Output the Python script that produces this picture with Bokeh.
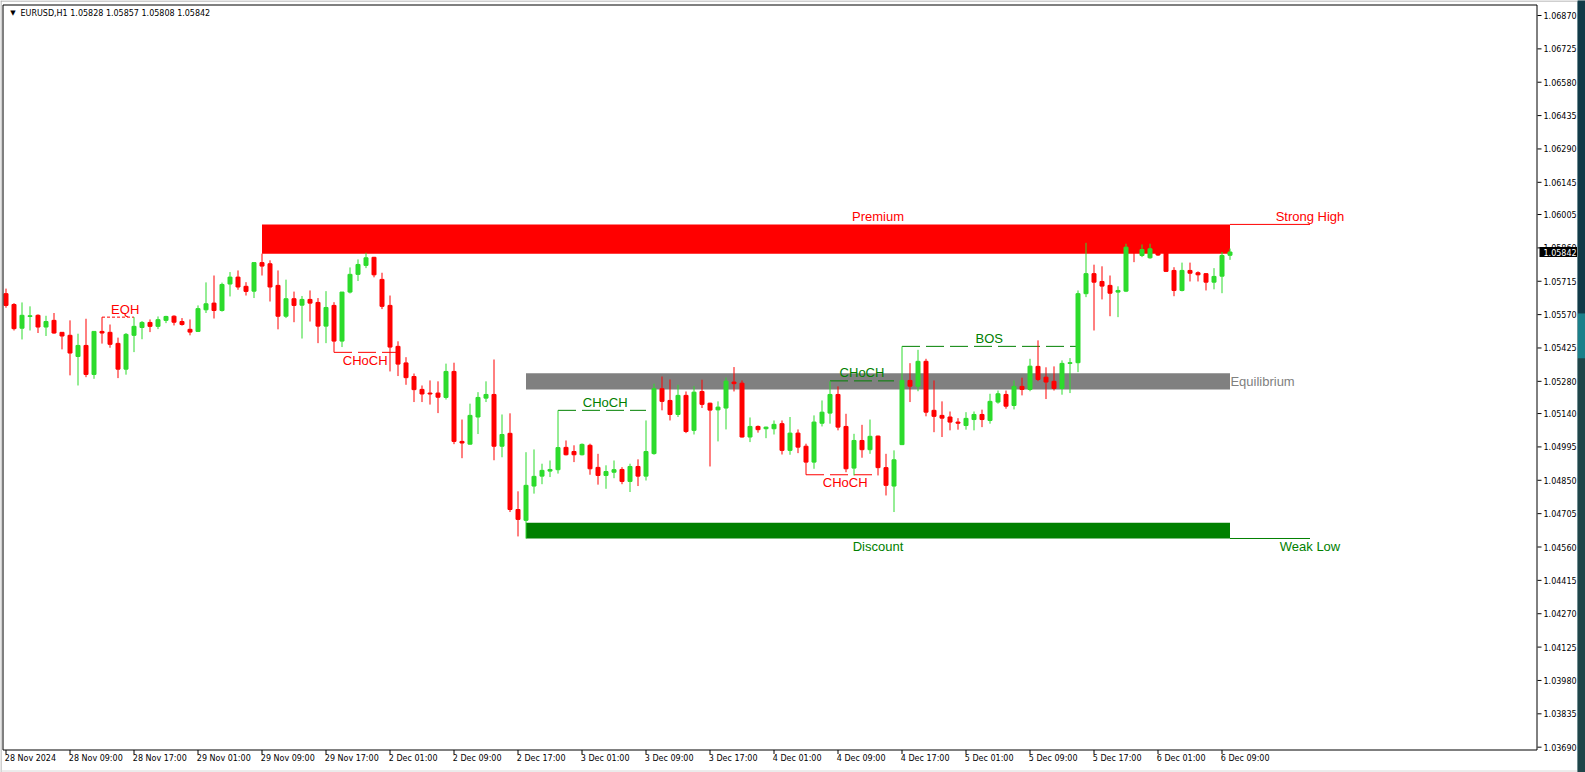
from bokeh.plotting import figure
from bokeh.models import Range1d, Label, ColumnDataSource
from bokeh.layouts import row
from bokeh.embed import file_html
from bokeh.resources import INLINE
from bokeh.core.properties import value

# ---------------- data ----------------
symbol_text = "EURUSD,H1  1.05828 1.05857 1.05808 1.05842"
last_price = 1.05842

opens = [1.05661,1.05614,1.05511,1.05562,1.05567,1.05516,1.05545,1.05493,1.05480,1.05388,
         1.05436,1.05310,1.05497,1.05493,1.05445,1.05333,1.05480,1.05514,1.05536,1.05519,
         1.05545,1.05563,1.05540,1.05506,1.05497,1.05591,1.05620,1.05588,1.05703,1.05733,
         1.05693,1.05672,1.05796,1.05791,1.05697,1.05563,1.05639,1.05611,1.05636,1.05623,
         1.05520,1.05610,1.05455,1.05668,1.05745,1.05784,1.05819,1.05723,1.05610,1.05432,
         1.05360,1.05301,1.05245,1.05229,1.05229,1.05210,1.05323,1.05019,1.05007,1.05125,
         1.05207,1.05223,1.04998,1.05054,1.04723,1.04676,1.04825,1.04868,1.04890,1.04896,
         1.04993,1.04975,1.04961,1.05002,1.04906,1.04871,1.04885,1.04897,1.04845,1.04910,
         1.04868,1.04966,1.05248,1.05197,1.05136,1.05219,1.05067,1.05236,1.05185,1.05156,
         1.05164,1.05277,1.05272,1.05038,1.05084,1.05074,1.05074,1.05096,1.04980,1.05055,
         1.04998,1.04929,1.05098,1.05142,1.05223,1.05084,1.04903,1.05023,1.04983,1.05042,
         1.04905,1.04825,1.05005,1.05284,1.05259,1.05367,1.05154,1.05132,1.05125,1.05103,
         1.05088,1.05114,1.05136,1.05110,1.05190,1.05223,1.05175,1.05258,1.05245,1.05345,
         1.05298,1.05280,1.05249,1.05358,1.05361,1.05661,1.05748,1.05714,1.05697,1.05668,
         1.05672,1.05862,1.05827,1.05817,1.05853,1.05849,1.05762,1.05675,1.05762,1.05752,
         1.05748,1.05711,1.05737,1.05828]
highs = [1.05683,1.05620,1.05623,1.05606,1.05571,1.05565,1.05577,1.05493,1.05545,1.05487,
         1.05552,1.05497,1.05559,1.05527,1.05470,1.05490,1.05559,1.05542,1.05549,1.05562,
         1.05565,1.05567,1.05555,1.05549,1.05610,1.05710,1.05740,1.05709,1.05755,1.05762,
         1.05711,1.05796,1.05835,1.05806,1.05762,1.05722,1.05670,1.05651,1.05675,1.05642,
         1.05672,1.05624,1.05668,1.05775,1.05810,1.05839,1.05821,1.05752,1.05653,1.05454,
         1.05385,1.05314,1.05262,1.05284,1.05280,1.05357,1.05361,1.05114,1.05183,1.05233,
         1.05280,1.05375,1.05136,1.05141,1.04802,1.04972,1.04984,1.04922,1.04936,1.05154,
         1.05023,1.05002,1.05010,1.05009,1.04965,1.04915,1.04936,1.04907,1.04922,1.04941,
         1.05110,1.05270,1.05301,1.05288,1.05265,1.05236,1.05259,1.05287,1.05187,1.05193,
         1.05297,1.05342,1.05284,1.05123,1.05088,1.05083,1.05110,1.05110,1.05125,1.05071,
         1.05009,1.05132,1.05197,1.05280,1.05258,1.05139,1.05052,1.05091,1.05114,1.05044,
         1.04965,1.04980,1.05432,1.05359,1.05417,1.05378,1.05284,1.05193,1.05149,1.05120,
         1.05146,1.05149,1.05157,1.05226,1.05240,1.05240,1.05284,1.05296,1.05378,1.05458,
         1.05341,1.05345,1.05371,1.05381,1.05675,1.05882,1.05787,1.05780,1.05740,1.05693,
         1.05878,1.05879,1.05875,1.05878,1.05866,1.05866,1.05776,1.05796,1.05796,1.05758,
         1.05750,1.05772,1.05842,1.05857]
lows = [1.05600,1.05501,1.05462,1.05501,1.05490,1.05477,1.05487,1.05419,1.05306,1.05262,
        1.05298,1.05291,1.05444,1.05426,1.05294,1.05309,1.05407,1.05463,1.05494,1.05507,
        1.05533,1.05523,1.05522,1.05480,1.05495,1.05577,1.05553,1.05583,1.05649,1.05678,
        1.05653,1.05642,1.05740,1.05627,1.05506,1.05555,1.05537,1.05466,1.05540,1.05446,
        1.05446,1.05406,1.05429,1.05662,1.05716,1.05772,1.05732,1.05594,1.05323,1.05303,
        1.05265,1.05190,1.05190,1.05179,1.05142,1.05201,1.05007,1.04946,1.05005,1.05051,
        1.05190,1.04937,1.04950,1.04712,1.04606,1.04597,1.04792,1.04833,1.04864,1.04879,
        1.04958,1.04929,1.04958,1.04874,1.04831,1.04813,1.04859,1.04833,1.04799,1.04825,
        1.04849,1.04961,1.05154,1.05110,1.05125,1.05055,1.05049,1.05164,1.04910,1.05019,
        1.05071,1.05236,1.05036,1.05016,1.05057,1.05033,1.05049,1.04962,1.04961,1.04968,
        1.04874,1.04900,1.05084,1.05096,1.05067,1.04885,1.04871,1.04948,1.04965,1.04871,
        1.04784,1.04712,1.05003,1.05190,1.05237,1.05128,1.05059,1.05038,1.05067,1.05070,
        1.05070,1.05067,1.05081,1.05096,1.05183,1.05161,1.05158,1.05219,1.05237,1.05281,
        1.05203,1.05240,1.05222,1.05229,1.05320,1.05646,1.05501,1.05636,1.05563,1.05559,
        1.05668,1.05798,1.05820,1.05813,1.05825,1.05755,1.05650,1.05671,1.05714,1.05714,
        1.05675,1.05680,1.05663,1.05808]
closes = [1.05610,1.05509,1.05567,1.05565,1.05516,1.05540,1.05490,1.05477,1.05403,1.05436,
          1.05310,1.05497,1.05490,1.05441,1.05333,1.05484,1.05519,1.05536,1.05519,1.05548,
          1.05562,1.05537,1.05527,1.05494,1.05596,1.05617,1.05588,1.05701,1.05733,1.05690,
          1.05671,1.05796,1.05781,1.05690,1.05563,1.05639,1.05610,1.05636,1.05620,1.05520,
          1.05601,1.05455,1.05668,1.05745,1.05788,1.05817,1.05743,1.05606,1.05429,1.05355,
          1.05296,1.05244,1.05225,1.05225,1.05211,1.05323,1.05019,1.05012,1.05132,1.05210,
          1.05223,1.04998,1.05049,1.04723,1.04680,1.04828,1.04867,1.04893,1.04897,1.04992,
          1.04961,1.04961,1.05006,1.04900,1.04871,1.04888,1.04896,1.04845,1.04910,1.04868,
          1.04975,1.05248,1.05193,1.05136,1.05219,1.05062,1.05233,1.05180,1.05155,1.05168,
          1.05281,1.05270,1.05038,1.05084,1.05070,1.05081,1.05093,1.04980,1.05055,1.04994,
          1.04929,1.05103,1.05146,1.05223,1.05081,1.04900,1.05023,1.04983,1.05041,1.04905,
          1.04828,1.04939,1.05284,1.05259,1.05367,1.05146,1.05128,1.05120,1.05103,1.05098,
          1.05119,1.05136,1.05114,1.05193,1.05226,1.05172,1.05258,1.05245,1.05346,1.05288,
          1.05277,1.05249,1.05358,1.05361,1.05661,1.05748,1.05711,1.05694,1.05663,1.05675,
          1.05863,1.05840,1.05853,1.05856,1.05829,1.05758,1.05675,1.05762,1.05750,1.05743,
          1.05711,1.05736,1.05827,1.05842]

time_labels = ["28 Nov 2024", "28 Nov 09:00", "28 Nov 17:00", "29 Nov 01:00", "29 Nov 09:00",
               "29 Nov 17:00", "2 Dec 01:00", "2 Dec 09:00", "2 Dec 17:00", "3 Dec 01:00",
               "3 Dec 09:00", "3 Dec 17:00", "4 Dec 01:00", "4 Dec 09:00", "4 Dec 17:00",
               "5 Dec 01:00", "5 Dec 09:00", "5 Dec 17:00", "6 Dec 01:00", "6 Dec 09:00"]
time_label_bars = [0, 8, 16, 24, 32, 40, 48, 56, 64, 72, 80, 88, 96, 104, 112, 120, 128, 136, 144, 152]

price_ticks = [1.06870, 1.06725, 1.06580, 1.06435, 1.06290, 1.06145, 1.06005, 1.05860,
               1.05715, 1.05570, 1.05425, 1.05280, 1.05140, 1.04995, 1.04850, 1.04705,
               1.04560, 1.04415, 1.04270, 1.04125, 1.03980, 1.03835, 1.03690]

# premium / equilibrium / discount zones
zone_names = ["Premium", "Equilibrium", "Discount"]
zone_tops = [1.05962, 1.05315, 1.04665]
zone_bottoms = [1.05835, 1.05245, 1.04597]
zone_start = [32, 65, 65]
zone_end = [153, 153, 153]
strong_high = 1.05962
weak_low = 1.04597

# market-structure marks
struct_names = ["EQH", "CHoCH", "CHoCH", "CHoCH", "CHoCH", "BOS"]
struct_start = [12, 41, 69, 100, 103, 112]
struct_end = [16, 49, 80, 109, 111, 134]
struct_level = [1.05559, 1.05406, 1.05154, 1.04874, 1.05282, 1.05432]
struct_bull = [False, False, True, False, True, True]

# ---------------- layout constants (pixels) ----------------
W, H = 1577, 772
BAR_PX, BAR0_PX = 8.0, 5.5          # bar spacing, centre of first bar
P_REF, PX_REF, SCALE = 1.06870, 15.0, 23009.0   # price scale of the chart window
FRAME_L, FRAME_R, FRAME_T, FRAME_B = 2.5, 1536.5, 4.5, 749.5


def bx(px):
    return (px - BAR0_PX) / BAR_PX


def py(px):
    return P_REF - (px - PX_REF) / SCALE


PXY = 1.0 / SCALE   # one pixel in price units

RED = "#FF0000"
BULL = "#2DDB2D"
DGREEN = "#008000"
GRAY = "#808080"
FONT = "Liberation Sans"
AXFONT = "DejaVu Sans"

p = figure(width=W, height=H, output_backend="svg", toolbar_location=None,
           x_range=Range1d(bx(0), bx(W)), y_range=Range1d(py(H), py(0)),
           x_axis_location=None, y_axis_location=None, min_border=0)
p.grid.visible = False
p.outline_line_color = None
p.background_fill_color = "white"
p.border_fill_color = "white"

# window edges
p.line([bx(0), bx(W)], [py(0.5), py(0.5)], line_color="#A0A0A0", line_width=1)
p.line([bx(0.5), bx(0.5)], [py(0), py(H)], line_color="#A0A0A0", line_width=1)
p.line([bx(0), bx(W)], [py(770.5), py(770.5)], line_color="#D8D8D8", line_width=1)

# zones
zone_colors = [RED, GRAY, DGREEN]
p.quad(left=zone_start, right=zone_end, top=zone_tops, bottom=zone_bottoms,
       fill_color=zone_colors, line_color=None)

# strong high / weak low lines
line_end = zone_end[0] + 10
p.segment(x0=[zone_end[0], zone_end[2]], x1=[line_end, line_end], y0=[strong_high, weak_low],
          y1=[strong_high, weak_low], line_color=[RED, DGREEN], line_width=1)

# structure lines
for name, a, b, lvl, bull in zip(struct_names, struct_start, struct_end, struct_level, struct_bull):
    col = DGREEN if bull else RED
    dash = "3 2" if name == "EQH" else "18 6"
    p.line([a, b], [lvl, lvl], line_color=col, line_width=1, line_dash=dash)

# candles
idx = list(range(len(opens)))
cols = [BULL if c >= o else RED for o, c in zip(opens, closes)]
src = ColumnDataSource(dict(x=idx, o=opens, h=highs, l=lows, c=closes,
                            top=[max(o, c) for o, c in zip(opens, closes)],
                            bot=[min(o, c) for o, c in zip(opens, closes)], col=cols))
p.segment(x0="x", x1="x", y0="l", y1="h", line_color="col", line_width=1, source=src)
p.vbar(x="x", width=0.5, top="top", bottom="bot", fill_color="col", line_color="col",
       line_width=1, source=src)

# chart frame
p.line([bx(FRAME_L), bx(FRAME_R), bx(FRAME_R), bx(FRAME_L), bx(FRAME_L)],
       [py(FRAME_T), py(FRAME_T), py(FRAME_B), py(FRAME_B), py(FRAME_T)],
       line_color="black", line_width=1)

# price scale (right)
tick_x0 = bx(FRAME_R + 0.5)
tick_x1 = bx(FRAME_R + 4.5)
p.segment(x0=[tick_x0] * len(price_ticks), x1=[tick_x1] * len(price_ticks),
          y0=price_ticks, y1=price_ticks, line_color="black", line_width=1)
p.text(x=[bx(FRAME_R + 6.5)] * len(price_ticks), y=price_ticks,
       text=[f"{t:.5f}" for t in price_ticks], text_font=value(AXFONT),
       text_font_size="8px", text_color="black", text_align="left", text_baseline="middle")

# time scale (bottom)
p.segment(x0=time_label_bars, x1=time_label_bars, y0=[py(FRAME_B)] * len(time_label_bars),
          y1=[py(FRAME_B + 4)] * len(time_label_bars), line_color="black", line_width=1)
p.text(x=[b - 0.15 for b in time_label_bars], y=[py(757.5)] * len(time_label_bars),
       text=time_labels, text_font=value(AXFONT), text_font_size="8px", text_color="black",
       text_align="left", text_baseline="middle")

# current price marker
p.quad(left=[bx(FRAME_R + 2.5)], right=[bx(W)], top=[last_price + 5 * PXY],
       bottom=[last_price - 5 * PXY], fill_color="black", line_color=None)
p.text(x=[bx(FRAME_R + 6.5)], y=[last_price], text=[f"{last_price:.5f}"],
       text_font=value(AXFONT), text_font_size="8px", text_color="white",
       text_align="left", text_baseline="middle")


def add_text(x, y, text, color, align="center", font=FONT, size="13px"):
    p.add_layout(Label(x=x, y=y, text=text, text_color=color, text_font=font,
                       text_font_size=size, text_align=align, text_baseline="middle"))


# structure labels
struct_label_x = [14.9, 44.9, 74.9, 104.9, 107.0, 122.9]
for name, lx, lvl, bull in zip(struct_names, struct_label_x, struct_level, struct_bull):
    above = bull or name == "EQH"
    col = DGREEN if bull else RED
    ly = lvl + 8 * PXY if above else lvl - 8 * PXY
    add_text(lx, ly, name, col)

# zone labels
mid_bar = 109
add_text(mid_bar, zone_tops[0] + 8 * PXY, "Premium", RED)
add_text(mid_bar, zone_bottoms[2] - 8 * PXY, "Discount", DGREEN)
add_text(zone_end[1] + 0.05, (zone_tops[1] + zone_bottoms[1]) / 2, "Equilibrium", GRAY, align="left")
add_text(line_end, strong_high + 8 * PXY, "Strong High", RED)
add_text(line_end, weak_low - 8 * PXY, "Weak Low", DGREEN)

# header
add_text(bx(12.5), py(12.5), "\u25bc", "black", font=AXFONT, size="7px")
add_text(bx(20), py(13), symbol_text, "black", align="left", font=AXFONT, size="8px")

# right-hand window strip
strip = figure(width=8, height=H, output_backend="svg", toolbar_location=None,
               x_range=Range1d(0, 1), y_range=Range1d(H, 0), min_border=0,
               x_axis_location=None, y_axis_location=None)
strip.grid.visible = False
strip.outline_line_color = None
strip.background_fill_color = "#1E4A50"
strip.border_fill_color = "#1E4A50"
strip.quad(left=[0, 0, 0], right=[1, 1, 1], top=[0, 313, 358], bottom=[313, 358, 772],
           fill_color=["#113A48", "#1B808A", "#1F4549"], line_color=None)

layout = row(p, strip)
layout.styles = {"position": "absolute", "left": "0px", "top": "0px"}

open("out.html", "w").write(file_html(layout, INLINE))
